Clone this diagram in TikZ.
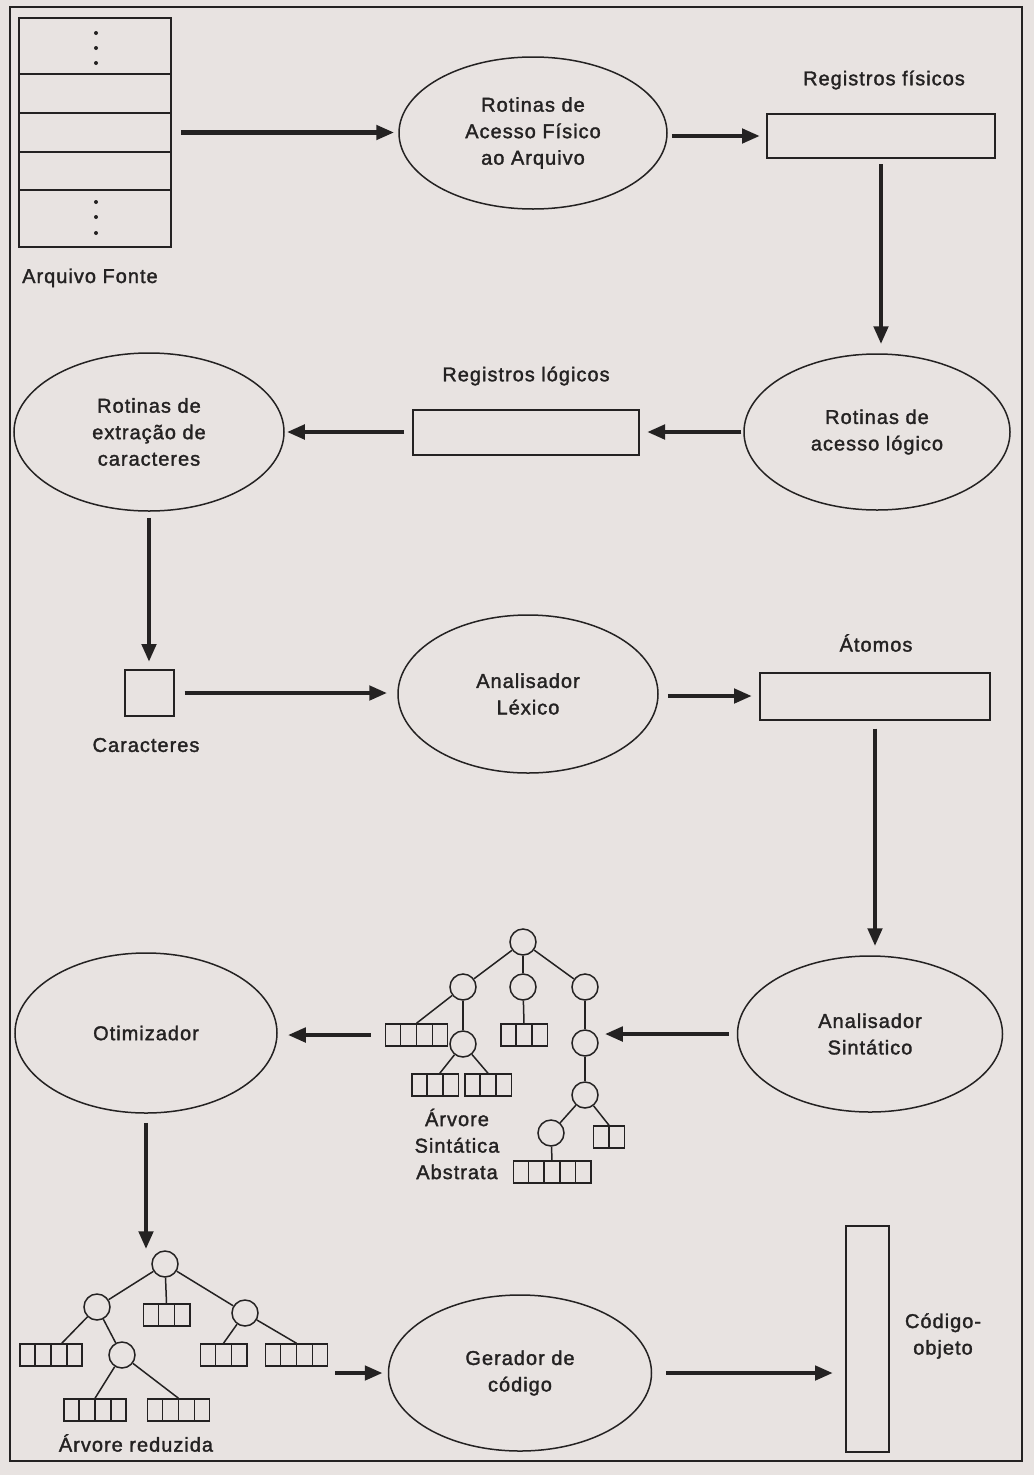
\documentclass[tikz,border=0pt]{standalone}
\usepackage{fontspec}
\setmainfont{Liberation Sans}[LetterSpace=5,FakeBold=1.6]
\usetikzlibrary{arrows.meta,shapes.geometric,calc}

\definecolor{paper}{RGB}{232,227,225}
\definecolor{ink}{RGB}{36,34,34}

\newcommand\lblfont{\fontsize{20}{26.5}\selectfont}
\def\cellw{15.5pt}

\tikzset{
  proc/.style={ellipse, draw=ink, line width=1.5pt, inner sep=0pt,
    minimum width=266pt, minimum height=156pt, align=center, font=\lblfont, text=ink},
  store/.style={rectangle, draw=ink, line width=2pt, inner sep=0pt},
  txtlbl/.style={font=\lblfont, text=ink, align=center, inner sep=0pt},
  flow/.style={draw=ink, line width=4.5pt, -{Triangle[length=18pt,width=14pt]}},
  twig/.style={draw=ink, line width=1.5pt},
  knot/.style={circle, draw=ink, line width=1.5pt, minimum size=26pt, inner sep=0pt},
  cellbox/.style={rectangle, draw=ink, line width=1.5pt, minimum height=22pt, inner sep=0pt},
}

% a row of empty record cells: name, centre, number of cells
\newcommand\cellrow[3]{%
  \node[cellbox, minimum width=#3*\cellw] (#1) at (#2) {};
  \pgfmathtruncatemacro\celldivs{#3-1}%
  \foreach \k in {1,...,\celldivs}{%
    \draw[twig] ($(#1.north west)!{\k/#3}!(#1.north east)$) --
                ($(#1.south west)!{\k/#3}!(#1.south east)$);
  }%
}

\begin{document}
\begin{tikzpicture}[x=1pt,y=-1pt]
  \useasboundingbox (0,0) rectangle (1034,1475);
  \fill[paper] (0,0) rectangle (1034,1475);
  \draw[ink, line width=2pt] (10,7) rectangle (1022,1461);

  % ---- source file as a stack of records
  \node[store, minimum width=152pt, minimum height=229pt] (src) at (95,132.5) {};
  \foreach \f in {0.245,0.415,0.585,0.747}{
    \draw[ink, line width=2pt] ($(src.north west)!\f!(src.south west)$) -- ($(src.north east)!\f!(src.south east)$);
  }
  \foreach \yy in {33,48,63,202,217,233}{
    \fill[ink] (96,\yy) circle (2pt);
  }
  \node[txtlbl, anchor=base west] (srclbl) at (22,283) {Arquivo Fonte};

  % ---- processing stages
  \node[proc, minimum width=268pt, minimum height=152pt] (acfis) at (533,133) {Rotinas de\\Acesso Físico\\ao Arquivo};
  \node[proc] (lacc) at (877,432) {Rotinas de\\acesso lógico};
  \node[proc, minimum width=270pt, minimum height=158pt] (extr) at (149,432) {Rotinas de\\extração de\\caracteres};
  \node[proc, minimum width=260pt, minimum height=158pt] (lex) at (528,694) {Analisador\\Léxico};
  \node[proc, minimum width=265pt] (synt) at (870,1034) {Analisador\\Sintático};
  \node[proc, minimum width=262pt, minimum height=160pt] (opt) at (146,1033) {Otimizador};
  \node[proc, minimum width=263pt] (gen) at (520,1373) {Gerador de\\código};

  % ---- intermediate data
  \node[store, minimum width=228pt, minimum height=44pt] (rf) at (881,136) {};
  \node[txtlbl] (rflbl) at (884,80) {Registros físicos};
  \node[store, minimum width=226pt, minimum height=45pt] (rl) at (526,432) {};
  \node[txtlbl] (rllbl) at (526,376) {Registros lógicos};
  \node[store, minimum width=49pt, minimum height=46pt] (chr) at (149,693) {};
  \node[txtlbl] (chrlbl) at (146,745) {Caracteres};
  \node[store, minimum width=230pt, minimum height=47pt] (atm) at (875,696) {};
  \node[txtlbl] (atmlbl) at (876,643) {Átomos};
  \node[store, minimum width=43pt, minimum height=226pt] (obj) at (867.5,1339) {};
  \node[txtlbl] (objlbl) at (943,1336) {Código-\\objeto};

  % ---- abstract syntax tree
  \node[knot] (a0) at (523,942) {};
  \node[knot] (a1) at (463,987) {};
  \node[knot] (a2) at (523,987) {};
  \node[knot] (a3) at (585,987) {};
  \node[knot] (a4) at (463,1044) {};
  \node[knot] (a5) at (585,1043) {};
  \node[knot] (a6) at (585,1095) {};
  \node[knot] (a7) at (551,1133) {};
  \cellrow{b1}{416.5,1035}{4}
  \cellrow{b2}{435,1085}{3}
  \cellrow{b3}{488,1085}{3}
  \cellrow{b4}{524,1035}{3}
  \cellrow{b5}{609,1137}{2}
  \cellrow{b6}{552,1172}{5}
  \draw[twig] (a0) -- (a1);
  \draw[twig] (a0) -- (a2);
  \draw[twig] (a0) -- (a3);
  \draw[twig] (a1) -- (b1.north);
  \draw[twig] (a1) -- (a4);
  \draw[twig] (a4) -- ($(b2.north west)!.6!(b2.north east)$);
  \draw[twig] (a4) -- (b3.north);
  \draw[twig] (a2) -- (b4.north);
  \draw[twig] (a3) -- (a5);
  \draw[twig] (a5) -- (a6);
  \draw[twig] (a6) -- (a7);
  \draw[twig] (a6) -- (b5.north);
  \draw[twig] (a7) -- (b6.north);
  \node[txtlbl] (astlbl) at (457,1144) {Árvore\\Sintática\\Abstrata};

  % ---- reduced tree
  \node[knot] (r0) at (165,1264) {};
  \node[knot] (r1) at (97,1307) {};
  \node[knot] (r2) at (245,1313) {};
  \node[knot] (r3) at (122,1355) {};
  \cellrow{rb}{166.5,1315}{3}
  \cellrow{c1}{51,1355}{4}
  \cellrow{c2}{95,1410}{4}
  \cellrow{c3}{178.5,1410}{4}
  \cellrow{c4}{223.5,1355}{3}
  \cellrow{c5}{296.5,1355}{4}
  \draw[twig] (r0) -- (r1);
  \draw[twig] (r0) -- (rb.north);
  \draw[twig] (r0) -- (r2);
  \draw[twig] (r1) -- ($(c1.north west)!.67!(c1.north east)$);
  \draw[twig] (r1) -- (r3);
  \draw[twig] (r3) -- (c2.north);
  \draw[twig] (r3) -- (c3.north);
  \draw[twig] (r2) -- (c4.north);
  \draw[twig] (r2) -- (c5.north);
  \node[txtlbl] (redlbl) at (136,1443) {Árvore reduzida};

  % ---- data flow
  \draw[flow, shorten <=9pt, shorten >=4pt] (src.east) -- (src.east -| acfis.west);
  \draw[flow, shorten <=4pt, shorten >=6pt] (acfis.east |- rf.west) -- (rf.west);
  \draw[flow, shorten <=5pt, shorten >=9pt] (rf.south) -- (rf.south |- lacc.north);
  \draw[flow, shorten <=2pt, shorten >=7pt] (lacc.west |- rl.east) -- (rl.east);
  \draw[flow, shorten <=8pt, shorten >=2pt] (rl.west) -- (rl.west -| extr.east);
  \draw[flow, shorten <=6pt, shorten >=7pt] (extr.south) -- (chr.north);
  \draw[flow, shorten <=10pt, shorten >=10pt] (chr.east) -- (chr.east -| lex.west);
  \draw[flow, shorten <=9pt, shorten >=7pt] (lex.east |- atm.west) -- (atm.west);
  \draw[flow, shorten <=8pt, shorten >=9pt] (atm.south) -- (atm.south |- synt.north);
  \draw[flow, shorten <=8pt, shorten >=6pt] (synt.west) -- (synt.west -| a5.east);
  \draw[flow, shorten <=14pt, shorten >=10pt] (b1.west) -- (b1.west -| opt.east);
  \draw[flow, shorten <=9pt, shorten >=1pt] (opt.south) -- (opt.south |- r0.north);
  \draw[flow, shorten <=7pt, shorten >=5pt] (c5.east |- gen.west) -- (gen.west);
  \draw[flow, shorten <=14pt, shorten >=12pt] (gen.east) -- (gen.east -| obj.west);
\end{tikzpicture}
\end{document}
